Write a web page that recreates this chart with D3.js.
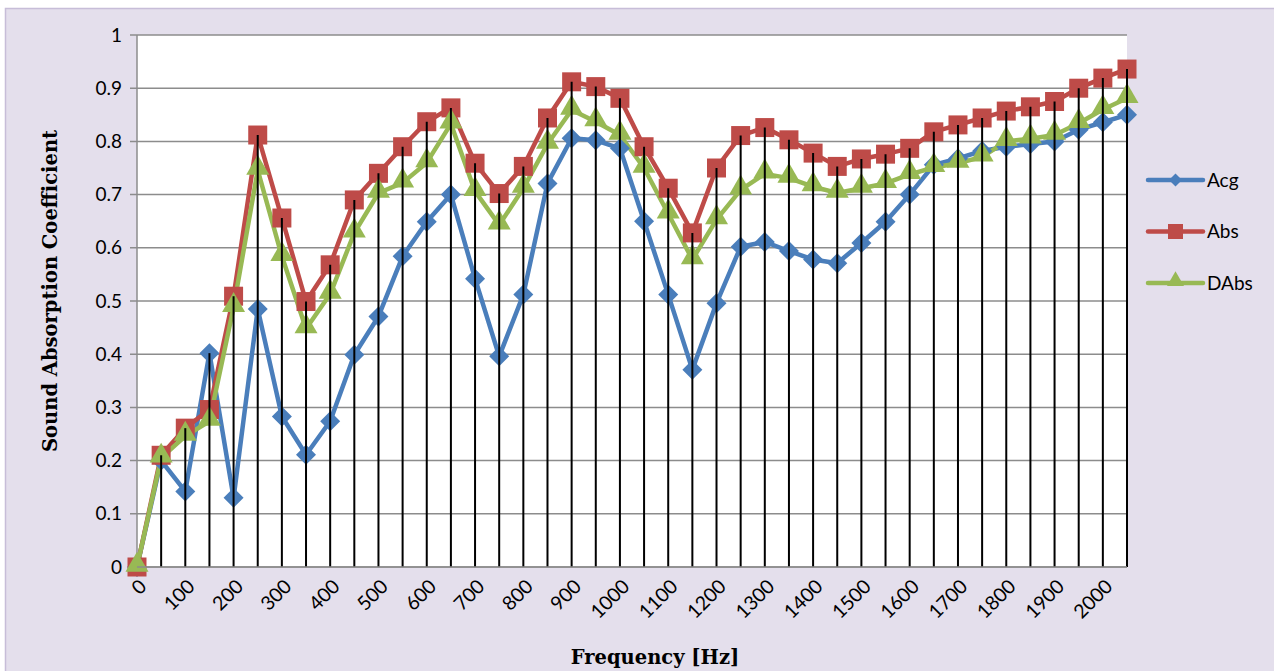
<!DOCTYPE html>
<html>
<head>
<meta charset="utf-8">
<script src="https://cdn.jsdelivr.net/npm/d3@7"></script>
<style>
  body { margin: 0; background: #fff; }
  text { font-family: Lato, "Open Sans", sans-serif; }
</style>
</head>
<body>
<div id="content"></div>
<script>
// frequencies (Hz), one category every 50 Hz
var freqs = d3.range(0, 2051, 50);
var tickLabels = d3.range(0, 2001, 100);
var yTicks = [0, 0.1, 0.2, 0.3, 0.4, 0.5, 0.6, 0.7, 0.8, 0.9, 1];

var acg = [0, 0.20, 0.142, 0.402, 0.13, 0.485, 0.283, 0.211, 0.274, 0.399, 0.471, 0.584, 0.649, 0.70,
  0.542, 0.396, 0.512, 0.721, 0.806, 0.802, 0.787, 0.65, 0.512, 0.371, 0.496, 0.602, 0.611, 0.594,
  0.578, 0.571, 0.609, 0.649, 0.70, 0.756, 0.768, 0.782, 0.79, 0.795, 0.80, 0.822, 0.836, 0.85];
var abs = [0, 0.21, 0.261, 0.296, 0.509, 0.812, 0.656, 0.499, 0.568, 0.69, 0.74, 0.79, 0.837, 0.863,
  0.759, 0.702, 0.753, 0.844, 0.912, 0.903, 0.881, 0.79, 0.712, 0.628, 0.75, 0.811, 0.826, 0.803,
  0.778, 0.753, 0.767, 0.776, 0.787, 0.818, 0.831, 0.844, 0.857, 0.865, 0.875, 0.90, 0.919, 0.936];
var dabs = [0, 0.205, 0.246, 0.274, 0.488, 0.746, 0.584, 0.448, 0.513, 0.628, 0.703, 0.722, 0.76, 0.833,
  0.706, 0.643, 0.712, 0.795, 0.859, 0.837, 0.812, 0.75, 0.664, 0.578, 0.653, 0.709, 0.739, 0.731,
  0.715, 0.703, 0.712, 0.721, 0.738, 0.751, 0.759, 0.771, 0.80, 0.805, 0.812, 0.834, 0.86, 0.881];

var seriesNames = ["Acg", "Abs", "DAbs"];
var seriesColors = ["#4a7ebb", "#be4b48", "#98b954"];
var seriesData = [acg, abs, dabs];

var W = 1274, H = 671;
var margin = {top: 35, right: 147, bottom: 104, left: 137},
  width = W - margin.left - margin.right,
  height = H - margin.top - margin.bottom;

var svg = d3.select("#content").append("svg")
  .attr("width", W)
  .attr("height", H);

// chart frame
svg.append("rect")
  .attr("x", 5.5).attr("y", 8.5)
  .attr("width", W - 4).attr("height", H)
  .attr("fill", "#e4dfec")
  .attr("stroke", "#c7bdd8")
  .attr("stroke-width", 1.5);

var g = svg.append("g")
  .attr("transform", "translate(" + margin.left + "," + margin.top + ")");

var x = d3.scalePoint().domain(freqs).range([0, width]);
var y = d3.scaleLinear().domain([0, 1]).range([height, 0]);

// marker shapes: diamond = rotated square
function marker(k, s) {
  if (k === 0) return { d: d3.symbol().type(d3.symbolSquare).size(s * s / 2)(), rot: 45, dy: 0 };
  if (k === 1) return { d: d3.symbol().type(d3.symbolSquare).size(s * s)(), rot: 0, dy: 0 };
  return { d: d3.symbol().type(d3.symbolTriangle).size(s * s * 0.433)(), rot: 0, dy: -2 };
}
var plotSizes = [20, 19, 23];
var legendSizes = [13, 15, 17];

// plot area
g.append("rect")
  .attr("width", width).attr("height", height)
  .attr("fill", "#fff");

// horizontal gridlines
g.selectAll(".grid").data(yTicks).enter().append("line")
  .attr("x1", -7).attr("x2", width)
  .attr("y1", function(d) { return y(d); })
  .attr("y2", function(d) { return y(d); })
  .attr("stroke", "#8c8c8c")
  .attr("stroke-width", 1.5);

// y axis line
g.append("line")
  .attr("x1", 0).attr("x2", 0).attr("y1", 0).attr("y2", height)
  .attr("stroke", "#8c8c8c").attr("stroke-width", 1.5);

// y tick labels
g.selectAll(".ylab").data(yTicks).enter().append("text")
  .attr("x", -15)
  .attr("y", function(d) { return y(d); })
  .attr("dy", "0.35em")
  .attr("text-anchor", "end")
  .style("font-size", "19px")
  .attr("fill", "#000")
  .text(function(d) { return d; });

// x tick labels, rotated
g.selectAll(".xlab").data(tickLabels).enter().append("text")
  .attr("transform", function(d) {
    return "translate(" + (x(d) + 6) + "," + (height + 16) + ") rotate(-45)";
  })
  .attr("text-anchor", "end")
  .attr("dy", "0.35em")
  .style("font-size", "19.5px")
  .attr("fill", "#000")
  .text(function(d) { return d; });

// series lines
var line = d3.line()
  .x(function(d, i) { return x(freqs[i]); })
  .y(function(d) { return y(d); });

seriesData.forEach(function(data, k) {
  g.append("path")
    .datum(data)
    .attr("fill", "none")
    .attr("stroke", seriesColors[k])
    .attr("stroke-width", 4.5)
    .attr("stroke-linejoin", "round")
    .attr("d", line);
});

// markers
seriesData.forEach(function(data, k) {
  var m = marker(k, plotSizes[k]);
  g.selectAll(".m" + k).data(data).enter().append("path")
    .attr("transform", function(d, i) {
      return "translate(" + x(freqs[i]) + "," + (y(d) + m.dy) + ") rotate(" + m.rot + ")";
    })
    .attr("d", m.d)
    .attr("fill", seriesColors[k]);
});

// drop lines from highest value down to the axis
g.selectAll(".drop").data(freqs).enter().append("line")
  .attr("x1", function(d) { return x(d); })
  .attr("x2", function(d) { return x(d); })
  .attr("y1", function(d, i) { return y(Math.max(acg[i], abs[i], dabs[i])); })
  .attr("y2", height)
  .attr("stroke", "#000")
  .attr("stroke-width", 2);

// bottom axis line
g.append("line")
  .attr("x1", 0).attr("x2", width).attr("y1", height).attr("y2", height)
  .attr("stroke", "#8c8c8c").attr("stroke-width", 1.5);

// axis titles
svg.append("text")
  .attr("transform", "translate(57," + (margin.top + height / 2 - 10) + ") rotate(-90)")
  .attr("text-anchor", "middle")
  .style("font-family", "'DejaVu Serif', serif")
  .style("font-weight", "bold")
  .style("font-size", "19.5px")
  .text("Sound Absorption Coefficient");

svg.append("text")
  .attr("x", 655).attr("y", 664)
  .attr("text-anchor", "middle")
  .style("font-family", "'DejaVu Serif', serif")
  .style("font-weight", "bold")
  .style("font-size", "19.5px")
  .text("Frequency [Hz]");

// legend
var legend = svg.append("g").attr("transform", "translate(1148,180)");
seriesNames.forEach(function(name, k) {
  var row = legend.append("g").attr("transform", "translate(0," + (k * 51.5) + ")");
  row.append("line")
    .attr("x1", 0).attr("x2", 55).attr("y1", 0).attr("y2", 0)
    .attr("stroke", seriesColors[k]).attr("stroke-width", 4.5)
    .attr("stroke-linecap", "round");
  var m = marker(k, legendSizes[k]);
  row.append("path")
    .attr("transform", "translate(27.5," + m.dy + ") rotate(" + m.rot + ")")
    .attr("d", m.d)
    .attr("fill", seriesColors[k]);
  row.append("text")
    .attr("x", 59).attr("y", 0).attr("dy", "0.35em")
    .style("font-size", "19px")
    .text(name);
});
</script>
</body>
</html>
